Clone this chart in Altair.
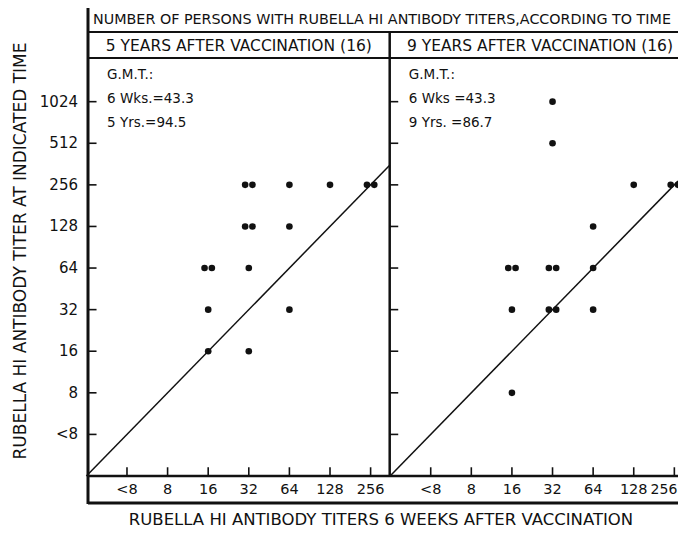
import altair as alt
import pandas as pd

# ---------------- data ----------------
Y_TITERS = ["<8", "8", "16", "32", "64", "128", "256", "512", "1024"]
X_TITERS = ["<8", "8", "16", "32", "64", "128", "256"]

PANELS = ["5 YEARS AFTER VACCINATION (16)", "9 YEARS AFTER VACCINATION (16)"]
GMT_LINES = [["G.M.T.:", "6 Wks.=43.3", "5 Yrs.=94.5"],
             ["G.M.T.:", "6 Wks =43.3", "9 Yrs. =86.7"]]

# 5 years after vaccination: titer at 6 weeks (x) vs titer at 5 years (y)
p5_x = ["32", "32", "64", "128", "256", "256", "32", "32", "64", "16", "16", "32", "16", "64", "16", "32"]
p5_y = ["256", "256", "256", "256", "256", "256", "128", "128", "128", "64", "64", "64", "32", "32", "16", "16"]
# 9 years after vaccination
p9_x = ["32", "32", "128", "256", "256", "64", "16", "16", "32", "32", "64", "16", "32", "32", "64", "16"]
p9_y = ["1024", "512", "256", "256", "256", "128", "64", "64", "64", "64", "64", "32", "32", "32", "32", "8"]

HEADER = "NUMBER OF PERSONS WITH RUBELLA HI ANTIBODY TITERS,ACCORDING TO TIME"
Y_TITLE = "RUBELLA HI ANTIBODY TITER AT INDICATED TIME"
X_TITLE = "RUBELLA HI ANTIBODY TITERS 6 WEEKS AFTER VACCINATION"

# ---------------- layout ----------------
W, H = 590, 418
X_MIN, X_MAX = -0.96, 13.57
Y_MIN, Y_MAX = -1.0, 9.05
SHIFT = [0.0, 7.48]          # horizontal offset of each panel on the shared x scale
DIVIDER = 6.47
TWIN = 0.18
TICK_X = 0.21
TICK_Y = 0.21
FONT = "DejaVu Sans"
INK = "#111111"

xs = alt.Scale(domain=[X_MIN, X_MAX], nice=False, zero=False)
ys = alt.Scale(domain=[Y_MIN, Y_MAX], nice=False, zero=False)
yi = {t: i for i, t in enumerate(Y_TITERS)}
xi = {t: i for i, t in enumerate(X_TITERS)}

rows = []
for p, (px, py) in enumerate([(p5_x, p5_y), (p9_x, p9_y)]):
    for a, b in zip(px, py):
        rows.append({"panel": p, "xt": a, "yt": b})
pts = pd.DataFrame(rows)
pts["n"] = pts.groupby(["panel", "xt", "yt"])["xt"].transform("size")
pts["k"] = pts.groupby(["panel", "xt", "yt"]).cumcount()
pts["u"] = [xi[a] + SHIFT[p] + (k - (n - 1) / 2) * TWIN
            for a, p, k, n in zip(pts["xt"], pts["panel"], pts["k"], pts["n"])]
pts["v"] = [float(yi[b]) for b in pts["yt"]]
pts = pts[["u", "v"]]

X = alt.X("u:Q", scale=xs, axis=None)
Y = alt.Y("v:Q", scale=ys, axis=None)

points = alt.Chart(pts).mark_circle(size=44, color=INK, opacity=1).encode(x=X, y=Y)

# identity lines
diag = pd.DataFrame({
    "u": [-1.0, SHIFT[1] - 1.0],
    "v": [-1.0, -1.0],
    "u2": [DIVIDER, X_MAX],
    "v2": [DIVIDER, X_MAX - SHIFT[1]],
})
diag_l = alt.Chart(diag).mark_rule(color=INK, strokeWidth=1.5).encode(
    x=X, y=Y, x2="u2:Q", y2="v2:Q")

# inward ticks on y (both panels)
yt_rows = []
for left in [X_MIN, DIVIDER]:
    for i in range(len(Y_TITERS)):
        yt_rows.append({"u": left, "u2": left + TICK_X, "v": float(i)})
ytk = alt.Chart(pd.DataFrame(yt_rows)).mark_rule(color=INK, strokeWidth=1.6).encode(
    x=X, x2="u2:Q", y=Y)

# inward ticks on x (both panels)
xt_rows = []
for s in SHIFT:
    for i in range(len(X_TITERS)):
        xt_rows.append({"u": i + s, "v": Y_MIN, "v2": Y_MIN + TICK_Y})
xtk = alt.Chart(pd.DataFrame(xt_rows)).mark_rule(color=INK, strokeWidth=1.6).encode(
    x=X, y=Y, y2="v2:Q")

# tick labels
ylab = alt.Chart(pd.DataFrame({"v": [float(i) for i in range(len(Y_TITERS))], "t": Y_TITERS})).mark_text(
    align="right", baseline="middle", font=FONT, fontSize=15, color=INK
).encode(x=alt.value(-10), y=Y, text="t:N")

xl_rows = []
for s in SHIFT:
    for i, t in enumerate(X_TITERS):
        xl_rows.append({"u": i + s, "t": t})
xl_df = pd.DataFrame(xl_rows)
xlab = alt.Chart(xl_df.iloc[:-1]).mark_text(
    align="center", baseline="middle", font=FONT, fontSize=14.5, color=INK
).encode(x=X, y=alt.value(H + 14), text="t:N")
# last label sits at the right edge of the page: keep it fully visible
xlab_last = alt.Chart(xl_df.iloc[-1:]).mark_text(
    align="right", baseline="middle", font=FONT, fontSize=14, color=INK, dx=3
).encode(x=X, y=alt.value(H + 14), text="t:N")

# frame lines
def hrule(ypx, sw):
    return alt.Chart(pd.DataFrame({"yy": [ypx]})).mark_rule(color=INK, strokeWidth=sw).encode(
        x=alt.value(0), x2=alt.value(W), y=alt.value(ypx))

hlines = [hrule(-51, 2), hrule(-26, 2), hrule(0, 2), hrule(H, 2.5), hrule(H + 27, 3)]
leftline = alt.Chart(pd.DataFrame({"d": [0]})).mark_rule(color=INK, strokeWidth=3).encode(
    x=alt.value(0), y=alt.value(-52), y2=alt.value(H + 28))
divider = alt.Chart(pd.DataFrame({"u": [DIVIDER]})).mark_rule(color=INK, strokeWidth=2.5).encode(
    x=X, y=alt.value(-26), y2=alt.value(H))

# header texts
header = alt.Chart(pd.DataFrame({"t": [HEADER]})).mark_text(
    font=FONT, fontSize=14.3, color=INK, align="center", baseline="middle").encode(
    x=alt.value(W / 2 - 1), y=alt.value(-38.5), text="t:N")

sub_rows = [{"u": (X_MIN + DIVIDER) / 2, "t": PANELS[0]},
            {"u": (DIVIDER + X_MAX) / 2 + 0.15, "t": PANELS[1]}]
subs = alt.Chart(pd.DataFrame(sub_rows)).mark_text(
    font=FONT, fontSize=15.5, color=INK, align="center", baseline="middle"
).encode(x=X, y=alt.value(-12), text="t:N")

gmt_layers = []
for j in range(3):
    rows_j = []
    for p, lines in enumerate(GMT_LINES):
        left = X_MIN if p == 0 else DIVIDER
        rows_j.append({"u": left + 0.47, "t": lines[j]})
    gmt_layers.append(
        alt.Chart(pd.DataFrame(rows_j)).mark_text(
            font=FONT, fontSize=13.5, color=INK, align="left", baseline="middle"
        ).encode(x=X, y=alt.value(17 + 24 * j), text="t:N")
    )

ytitle = alt.Chart(pd.DataFrame({"t": [Y_TITLE]})).mark_text(
    font=FONT, fontSize=17, color=INK, angle=270, align="center", baseline="middle").encode(
    x=alt.value(-67), y=alt.value(H / 2 - 16), text="t:N")
xtitle = alt.Chart(pd.DataFrame({"t": [X_TITLE]})).mark_text(
    font=FONT, fontSize=16.5, color=INK, align="center", baseline="middle").encode(
    x=alt.value(293), y=alt.value(H + 44), text="t:N")

chart = alt.layer(
    *hlines, leftline, divider, diag_l, ytk, xtk, ylab, xlab, xlab_last, header, subs, *gmt_layers,
    ytitle, xtitle, points
).properties(
    width=W, height=H,
    autosize=alt.AutoSizeParams(type="none"),
    padding={"left": 80, "top": 50, "right": 0, "bottom": 55},
    background="white",
).configure_view(stroke=None)

chart.save("out.html", embed_options={"renderer": "svg", "actions": False})
